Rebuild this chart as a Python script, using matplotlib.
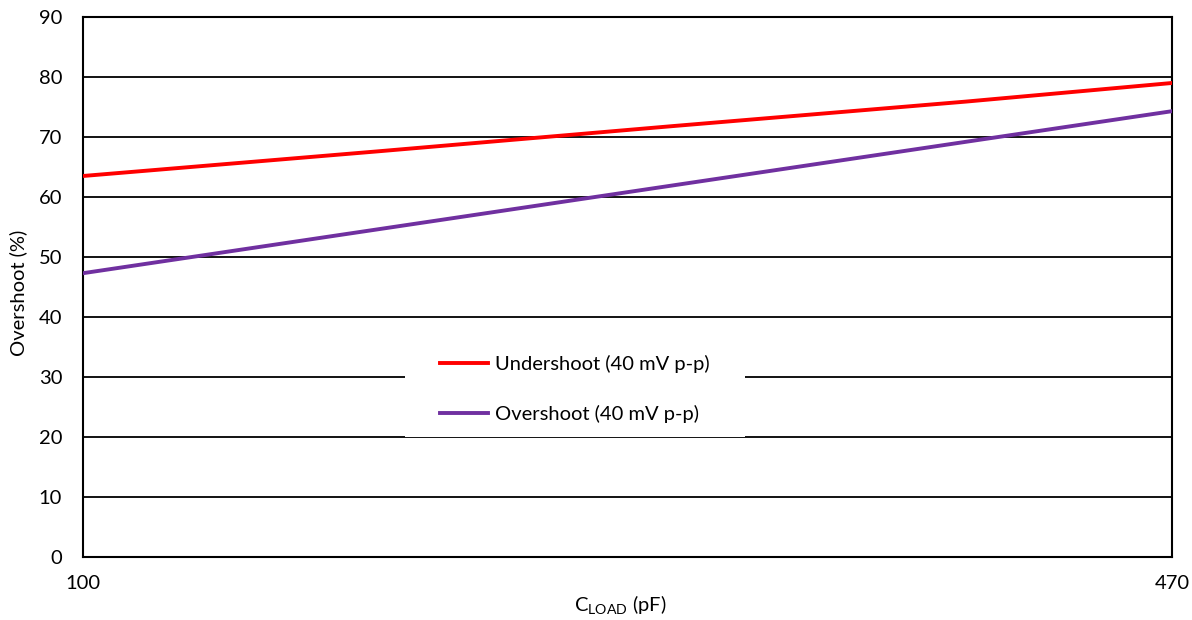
import matplotlib.pyplot as plt
from matplotlib.patches import Rectangle

plt.rcParams['font.family'] = ['Lato', 'DejaVu Sans']

cload = [100, 200, 300, 400, 470]
undershoot = [63.5, 67.6, 71.8, 75.9, 79.0]
overshoot = [47.3, 54.6, 61.9, 69.2, 74.3]
y_ticks = [0, 10, 20, 30, 40, 50, 60, 70, 80, 90]
x_ticks = [100, 470]

COLORS = {
    "under": "#FF0000",
    "over": "#7030A0",
}
FS = 14.5

fig = plt.figure(figsize=(11.92, 6.2), dpi=100)
ax = fig.add_axes([0.0696, 0.1016, 0.9136, 0.871])

ax.plot(cload, undershoot, color=COLORS["under"], lw=2.8, label="Undershoot (40 mV p-p)", zorder=3)
ax.plot(cload, overshoot, color=COLORS["over"], lw=2.8, label="Overshoot (40 mV p-p)", zorder=3)

ax.set_xlim(100, 470)
ax.set_ylim(0, 90)
ax.set_xticks(x_ticks)
ax.set_yticks(y_ticks)
ax.grid(axis='y', color='black', lw=1.3)
ax.set_axisbelow(True)
for sp in ax.spines.values():
    sp.set_color('black')
    sp.set_linewidth(1.5)
ax.tick_params(axis='both', length=0, labelsize=FS)
ax.tick_params(axis='y', pad=15)
ax.tick_params(axis='x', pad=13)

ax.set_xlabel(r'C$_{\mathregular{LOAD}}$ (pF)', fontsize=FS)
ax.set_ylabel('Overshoot (%)', fontsize=FS)
ax.xaxis.set_label_coords(0.493, -0.068)
ax.yaxis.set_label_coords(-0.0514, 0.49)

# white box behind the legend, hides the gridline at 30
ax.add_patch(Rectangle((0.2957, 0.222), 0.3123, 0.18, transform=ax.transAxes,
                       facecolor='white', edgecolor='none', zorder=2))
ax.legend(loc='upper left', bbox_to_anchor=(0.328, 0.374), fontsize=FS,
          frameon=False, handlelength=2.4, handletextpad=0.3,
          labelspacing=1.6, borderpad=0, borderaxespad=0)

plt.savefig('out.png', dpi=100)
